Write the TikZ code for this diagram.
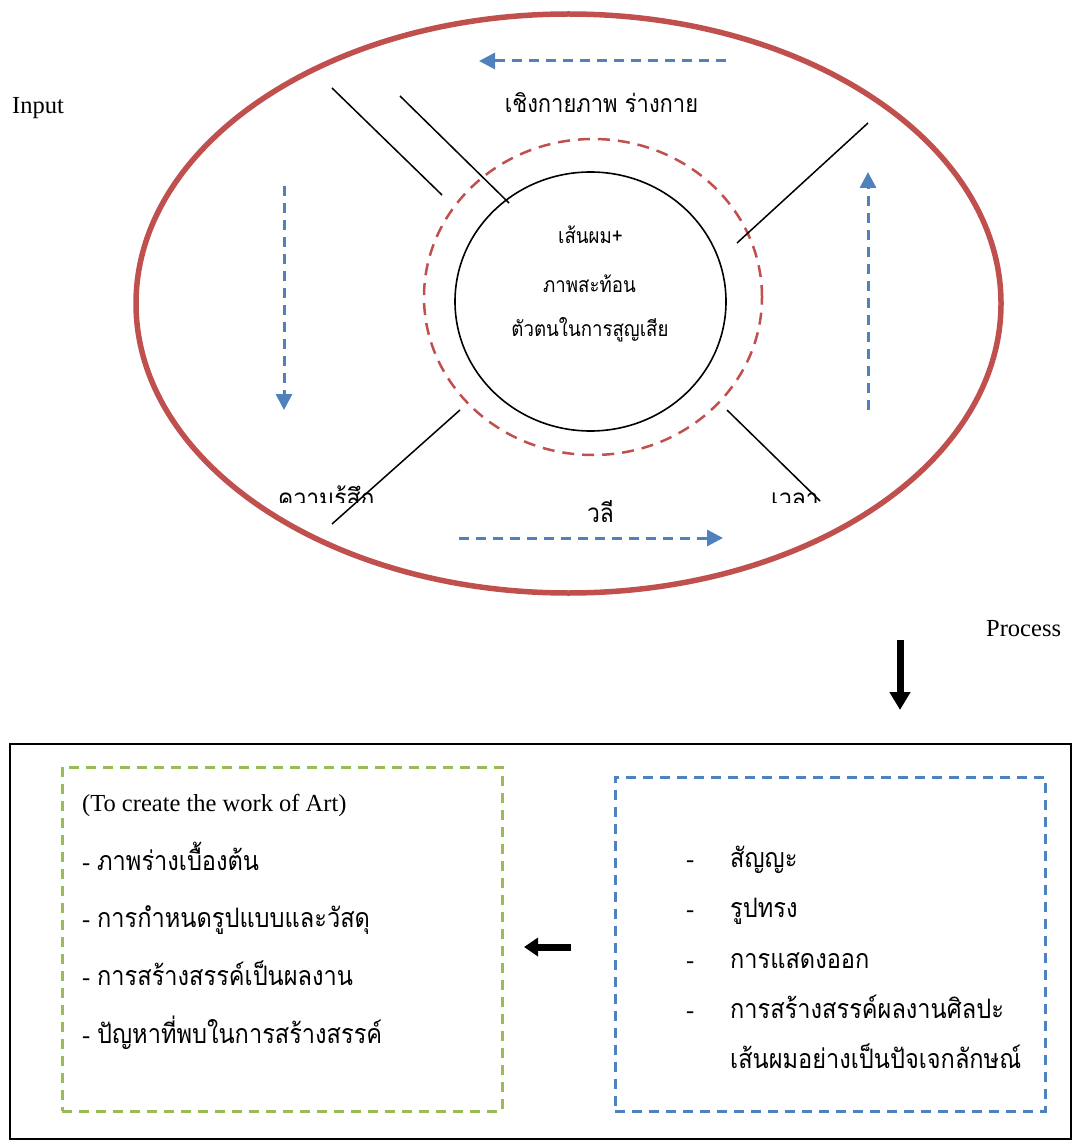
\documentclass[tikz,border=0pt]{standalone}
\usepackage{fontspec}
\setmainfont{Liberation Serif}
\newfontfamily\thai[Script=Thai,FakeStretch=0.88]{Loma}
\usetikzlibrary{arrows.meta,shapes.geometric}
\definecolor{ored}{HTML}{C0504D}
\definecolor{oblue}{HTML}{4F81BD}
\definecolor{ogreen}{HTML}{9BBB59}
\tikzset{
  engl/.style={font=\fontsize{24.5}{28}\selectfont, inner sep=0pt},
  thbox/.style={font=\thai\fontsize{26.8}{30}\selectfont, inner sep=0pt, anchor=base west},
  thtop/.style={font=\thai\fontsize{24.9}{28}\selectfont, inner sep=0pt, anchor=base},
  thin/.style={font=\thai\fontsize{21.2}{24}\selectfont, inner sep=0pt, anchor=base},
  thlab/.style={font=\thai\fontsize{26}{28}\selectfont, inner sep=0pt},
  spoke/.style={draw=black, line width=1.5pt},
  flow/.style={draw=oblue, line width=3pt, dash pattern=on 10pt off 7pt,
    -{Triangle[length=16pt,width=16pt]}},
  bigarrow/.style={draw=black, line width=7pt},
  dashbox/.style={line width=2.8pt, dash pattern=on 10pt off 7pt}
}
\begin{document}
\begin{tikzpicture}[x=1pt,y=-1pt]
\useasboundingbox (0,0) rectangle (1072,1147);
% --- upper diagram
\node[ellipse, draw=ored, line width=5.5pt, minimum width=865pt, minimum height=579pt, inner sep=0pt] (outer) at (568.5,303.5) {};
\node[ellipse, draw=ored, line width=2.5pt, dash pattern=on 12pt off 8pt, minimum width=338pt, minimum height=316pt, inner sep=0pt] (mid) at (593,297) {};
\node[ellipse, draw=black, line width=1.6pt, minimum width=271pt, minimum height=259pt, inner sep=0pt] (core) at (590.5,301.5) {};

\node[thin] (c1) at (590.5,244) {เส้นผม+};
\node[thin] (c2) at (589.5,292) {ภาพสะท้อน};
\node[thin] (c3) at (590,336) {ตัวตนในการสูญเสีย};

\node[thtop] (phys) at (601.5,113) {เชิงกายภาพ ร่างกาย};
\node[thlab, anchor=base] (vali) at (600.5,522) {วลี};
\begin{scope}
  \clip (200,470) rectangle (900,502);
  \node[thlab, anchor=base west] (feel) at (278,507) {ความรู้สึก};
  \node[thlab, anchor=base west] (time) at (771,507) {เวลา};
\end{scope}

% spokes
\coordinate (s1a) at (332,88);  \coordinate (s1b) at (442,195);
\coordinate (s2a) at (400,96);  \coordinate (s2b) at (509,203);
\coordinate (s3a) at (868,123); \coordinate (s3b) at (737,243);
\coordinate (s4a) at (460,410); \coordinate (s4b) at (332,524);
\coordinate (s5a) at (727,410); \coordinate (s5b) at (820,501);
\draw[spoke] (s1a) -- (s1b);
\draw[spoke] (s2a) -- (s2b);
\draw[spoke] (s3a) -- (s3b);
\draw[spoke] (s4a) -- (s4b);
\draw[spoke] (s5a) -- (s5b);

% blue flow arrows
\coordinate (f1a) at (726,61);  \coordinate (f1b) at (479,61);
\coordinate (f2a) at (284,186); \coordinate (f2b) at (284,410);
\coordinate (f3a) at (868,410); \coordinate (f3b) at (868,172);
\coordinate (f4a) at (459,538); \coordinate (f4b) at (723,538);
\draw[flow] (f1a) -- (f1b);
\draw[flow] (f2a) -- (f2b);
\draw[flow] (f3a) -- (f3b);
\draw[flow] (f4a) -- (f4b);

\node[engl, anchor=base west] (input) at (12,114) {Input};
\node[engl, anchor=base west] (process) at (986,636) {Process};

% --- lower part
\node[draw=black, line width=1.6pt, minimum width=1061pt, minimum height=395pt, inner sep=0pt, anchor=north west] (frame) at (9,743) {};
\coordinate (d1) at (900,640); \coordinate (d2) at (900,710);
\draw[bigarrow, -{Triangle[length=18pt,width=20pt]}] (d1) -- (d2);

\node[draw=ogreen, dashbox, minimum width=440pt, minimum height=344pt, inner sep=0pt, anchor=north west] (left) at (61,766) {};
\node[draw=oblue, dashbox, minimum width=430pt, minimum height=334pt, inner sep=0pt, anchor=north west] (right) at (614,776) {};

\coordinate (l1) at (571,947); \coordinate (l2) at (524,947);
\draw[bigarrow, -{Triangle[length=14pt,width=18pt]}] (l1) -- (l2);

\node[engl, anchor=base west] (art) at (82,811) {(To create the work of Art)};
\node[engl, anchor=base west] (ld1) at (82,870) {-};
\node[thbox] (lt1) at (97,870) {ภาพร่างเบื้องต้น};
\node[engl, anchor=base west] (ld2) at (82,927) {-};
\node[thbox] (lt2) at (97,927) {การกำหนดรูปแบบและวัสดุ};
\node[engl, anchor=base west] (ld3) at (82,985) {-};
\node[thbox] (lt3) at (97,985) {การสร้างสรรค์เป็นผลงาน};
\node[engl, anchor=base west] (ld4) at (82,1043) {-};
\node[thbox] (lt4) at (97,1043) {ปัญหาที่พบในการสร้างสรรค์};

\node[engl, anchor=base west] (rd1) at (686,867) {-};
\node[thbox] (rt1) at (730,867) {สัญญะ};
\node[engl, anchor=base west] (rd2) at (686,917) {-};
\node[thbox] (rt2) at (730,917) {รูปทรง};
\node[engl, anchor=base west] (rd3) at (686,968) {-};
\node[thbox] (rt3) at (730,968) {การแสดงออก};
\node[engl, anchor=base west] (rd4) at (686,1018) {-};
\node[thbox] (rt4) at (730,1018) {การสร้างสรรค์ผลงานศิลปะ};
\node[thbox] (rt5) at (730,1068) {เส้นผมอย่างเป็นปัจเจกลักษณ์};
\end{tikzpicture}
\end{document}
